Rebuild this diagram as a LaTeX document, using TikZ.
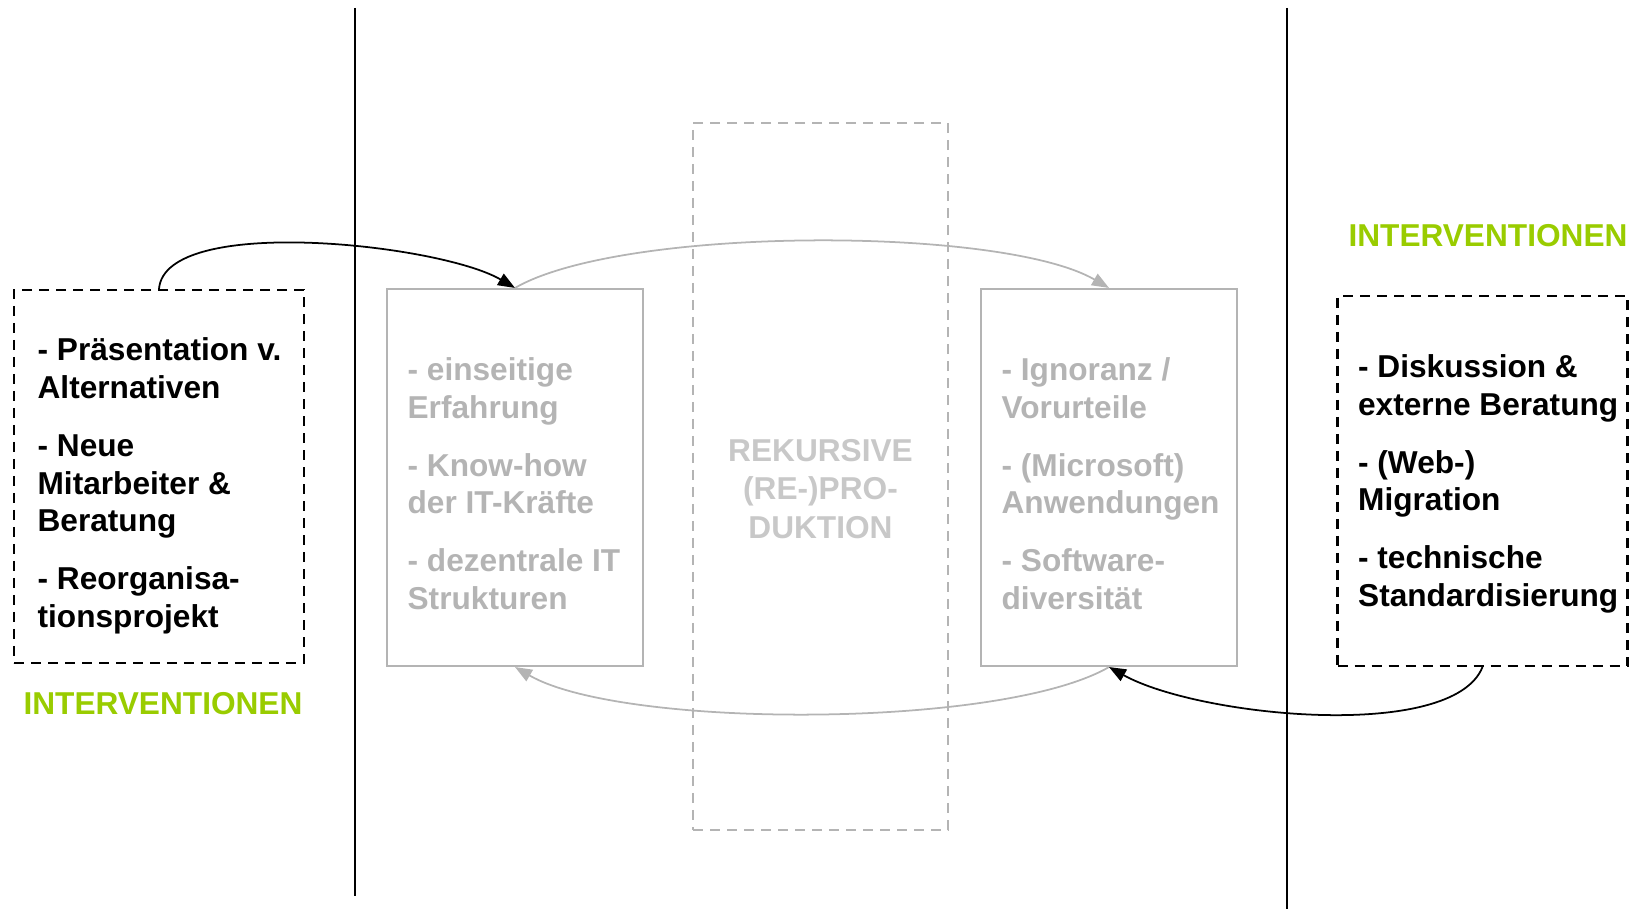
\documentclass[tikz,border=0pt]{standalone}
\usepackage{fontspec}
\setmainfont{Liberation Sans}
\usepackage{xcolor}
\usetikzlibrary{arrows.meta,positioning}
\definecolor{Ink}{HTML}{000000}
\definecolor{Lime}{HTML}{99CC00}
\definecolor{Fade}{HTML}{B4B4B4}
\definecolor{FadeSoft}{HTML}{C8C8C8}
\tikzset{
  ivbox/.style={draw=Ink,line width=0.6pt,dash pattern=on 1mm off 0.7mm,minimum width=29mm,minimum height=37.3mm,inner sep=0pt},
  cyclebox/.style={draw=Fade,line width=0.6pt,minimum width=25.6mm,minimum height=37.7mm,inner sep=0pt},
  recbox/.style={draw=Fade,line width=0.6pt,dash pattern=on 1mm off 0.7mm,minimum width=25.5mm,minimum height=70.7mm,inner sep=0pt},
  ivtext/.style={inner sep=0pt,align=left,text=Ink,font=\fontsize{9}{10.7}\selectfont\bfseries},
  cycletext/.style={inner sep=0pt,align=left,text=Fade,font=\fontsize{9}{10.7}\selectfont\bfseries},
  rectext/.style={inner sep=0pt,align=center,text=FadeSoft,font=\fontsize{9}{11}\selectfont\bfseries},
  ivlabel/.style={inner sep=0pt,text=Lime,font=\fontsize{9}{10.7}\selectfont\bfseries},
  divider/.style={draw=Ink,line width=0.5pt},
  arr/.style={-{Triangle[length=1.7mm,width=1.3mm]},draw=Ink,line width=0.5pt},
  softarr/.style={-{Triangle[length=1.7mm,width=1.3mm]},draw=Fade,line width=0.5pt}
}
\begin{document}
\begin{tikzpicture}[x=0.1mm,y=-0.1mm]
  \useasboundingbox (0,0) rectangle (1637,909);
  % dividers
  \coordinate (dLtop) at (355,8);
  \coordinate (dLbot) at (355,896);
  \coordinate (dRtop) at (1287,8);
  \coordinate (dRbot) at (1287,909);
  \draw[divider] (dLtop) -- (dLbot);
  \draw[divider] (dRtop) -- (dRbot);
  % boxes
  \node[ivbox] (ivL) at (159,476.5) {};
  \node[cyclebox] (expL) at (515,477.5) {};
  \node[recbox] (rek) at (820.5,476.5) {};
  \node[cyclebox] (expR) at (1109,477.5) {};
  \node[ivbox,minimum height=37mm] (ivR) at (1482.5,481) {};
  % texts
  \node[ivtext,right=2.4mm of ivL.west,yshift=-0.95mm] (ivLtxt)
    {- Präsentation v.\\ Alternativen\\[5.8pt] - Neue\\ Mitarbeiter \&\\ Beratung\\[5.8pt] - Reorganisa-\\ tionsprojekt};
  \node[cycletext,right=2.1mm of expL.west,yshift=-0.6mm] (expLtxt)
    {- einseitige\\ Erfahrung\\[5.8pt] - Know-how\\ der IT-Kräfte\\[5.8pt] - dezentrale IT\\ Strukturen};
  \node[rectext,yshift=-1.25mm] (rektxt) at (rek) {REKURSIVE\\ (RE-)PRO-\\ DUKTION};
  \node[cycletext,right=2.1mm of expR.west,yshift=-0.6mm] (expRtxt)
    {- Ignoranz /\\ Vorurteile\\[5.8pt] - (Microsoft)\\ Anwendungen\\[5.8pt] - Software-\\ diversität};
  \node[ivtext,right=2.1mm of ivR.west,yshift=-0.3mm] (ivRtxt)
    {- Diskussion \&\\ externe Beratung\\[5.8pt] - (Web-)\\ Migration\\[5.8pt] - technische\\ Standardisierung};
  \node[ivlabel,below=2.75mm of ivL,xshift=0.4mm] (ivLlab) {INTERVENTIONEN};
  \node[ivlabel,above=4.7mm of ivR,xshift=0.55mm] (ivRlab) {INTERVENTIONEN};
  % arrows
  \draw[arr] (ivL.north) .. controls +(6,-75) and +(-75,-44) .. (expL.north);
  \draw[softarr] (expL.north) .. controls +(107,-62) and +(-107,-62) .. (expR.north);
  \draw[softarr] (expR.south) .. controls +(-107,62) and +(107,62) .. (expL.south);
  \draw[arr] (ivR.south) .. controls +(-30,75) and +(90,50) .. (expR.south);
\end{tikzpicture}
\end{document}
